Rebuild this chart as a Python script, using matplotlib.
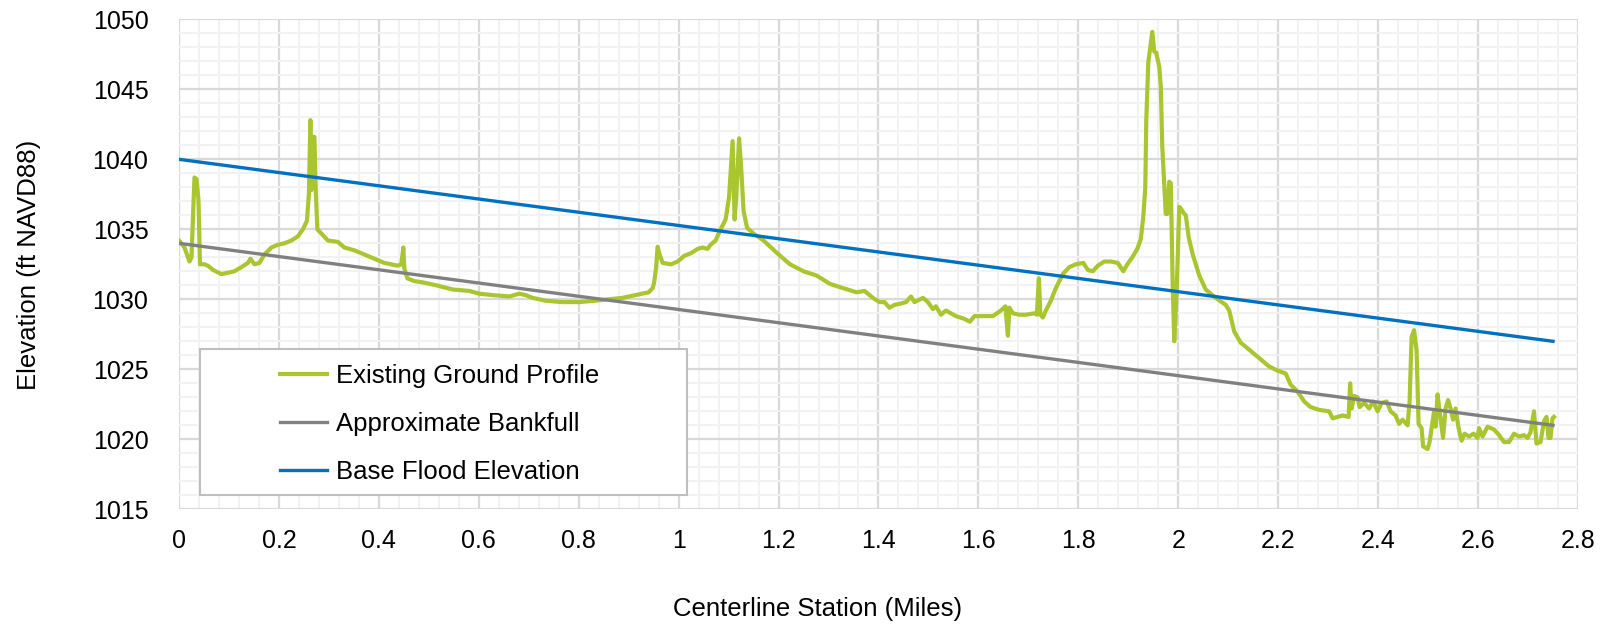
"""Elevation profile along the centerline"""

import matplotlib
matplotlib.use('Agg')
import matplotlib.pyplot as plt
from matplotlib.ticker import MultipleLocator
from matplotlib.patches import Rectangle

plt.rcParams['font.family'] = ['Liberation Sans', 'DejaVu Sans']

# existing ground profile (miles, ft)
station = [0, 0.011, 0.021, 0.025, 0.031, 0.035, 0.039, 0.042, 0.051, 0.058,
           0.068, 0.085, 0.098, 0.111, 0.125, 0.138, 0.143, 0.151, 0.161, 0.171,
           0.185, 0.198, 0.211, 0.225, 0.238, 0.248, 0.256, 0.260, 0.263, 0.265,
           0.267, 0.271, 0.274, 0.277, 0.285, 0.298, 0.318, 0.331, 0.351, 0.371,
           0.391, 0.411, 0.425, 0.438, 0.445, 0.449, 0.451, 0.457, 0.471, 0.489,
           0.515, 0.548, 0.581, 0.601, 0.628, 0.661, 0.681, 0.694, 0.708, 0.734,
           0.767, 0.800, 0.833, 0.860, 0.887, 0.913, 0.926, 0.940, 0.948, 0.951,
           0.955, 0.958, 0.962, 0.968, 0.985, 0.998, 1.011, 1.025, 1.038, 1.048,
           1.058, 1.064, 1.074, 1.084, 1.094, 1.101, 1.108, 1.112, 1.115, 1.121,
           1.125, 1.130, 1.137, 1.150, 1.170, 1.197, 1.223, 1.250, 1.276, 1.303,
           1.329, 1.356, 1.372, 1.389, 1.402, 1.412, 1.422, 1.432, 1.445, 1.455,
           1.465, 1.472, 1.489, 1.499, 1.509, 1.515, 1.525, 1.535, 1.555, 1.572,
           1.583, 1.592, 1.609, 1.629, 1.645, 1.654, 1.659, 1.662, 1.669, 1.682,
           1.695, 1.712, 1.717, 1.721, 1.724, 1.729, 1.735, 1.745, 1.755, 1.769,
           1.782, 1.795, 1.810, 1.819, 1.829, 1.839, 1.852, 1.865, 1.879, 1.890,
           1.898, 1.908, 1.918, 1.925, 1.930, 1.934, 1.936, 1.940, 1.945, 1.948,
           1.952, 1.956, 1.962, 1.965, 1.968, 1.975, 1.978, 1.982, 1.985, 1.989,
           1.992, 1.997, 2.002, 2.005, 2.010, 2.015, 2.021, 2.029, 2.042, 2.055,
           2.075, 2.095, 2.102, 2.112, 2.125, 2.142, 2.162, 2.182, 2.199, 2.215,
           2.225, 2.239, 2.252, 2.265, 2.282, 2.302, 2.309, 2.319, 2.329, 2.341,
           2.344, 2.347, 2.352, 2.359, 2.363, 2.372, 2.382, 2.390, 2.399, 2.407,
           2.417, 2.425, 2.435, 2.442, 2.449, 2.459, 2.463, 2.467, 2.472, 2.477,
           2.481, 2.487, 2.490, 2.499, 2.503, 2.509, 2.512, 2.515, 2.519, 2.523,
           2.530, 2.535, 2.540, 2.545, 2.550, 2.555, 2.561, 2.567, 2.573, 2.582,
           2.591, 2.599, 2.602, 2.609, 2.619, 2.632, 2.642, 2.652, 2.662, 2.672,
           2.682, 2.692, 2.699, 2.705, 2.712, 2.717, 2.725, 2.732, 2.737, 2.741,
           2.745, 2.749, 2.752]
ground = [1034.2, 1033.7, 1032.7, 1033.0, 1038.7, 1038.6, 1037.1, 1032.5, 1032.5, 1032.4,
          1032.1, 1031.8, 1031.9, 1032.0, 1032.3, 1032.6, 1032.9, 1032.5, 1032.6, 1033.2,
          1033.7, 1033.9, 1034.0, 1034.2, 1034.5, 1035.0, 1035.6, 1037.5, 1042.8, 1037.8,
          1041.6, 1041.6, 1037.5, 1035.0, 1034.7, 1034.2, 1034.1, 1033.7, 1033.5, 1033.2,
          1032.9, 1032.6, 1032.5, 1032.4, 1032.5, 1033.7, 1032.2, 1031.5, 1031.3, 1031.2,
          1031.0, 1030.7, 1030.6, 1030.4, 1030.3, 1030.2, 1030.4, 1030.3, 1030.1, 1029.9,
          1029.8, 1029.8, 1029.9, 1030.0, 1030.1, 1030.3, 1030.4, 1030.5, 1030.8, 1031.2,
          1032.3, 1033.75, 1033.2, 1032.6, 1032.5, 1032.7, 1033.1, 1033.3, 1033.6, 1033.7,
          1033.6, 1033.9, 1034.2, 1035.0, 1035.7, 1037.3, 1041.3, 1035.7, 1037.1, 1041.5,
          1039.5, 1036.3, 1035.1, 1034.7, 1034.2, 1033.3, 1032.5, 1032.0, 1031.7, 1031.1,
          1030.8, 1030.5, 1030.6, 1030.1, 1029.8, 1029.8, 1029.4, 1029.6, 1029.7, 1029.8,
          1030.2, 1029.8, 1030.1, 1029.8, 1029.3, 1029.5, 1028.9, 1029.2, 1028.8, 1028.6,
          1028.4, 1028.8, 1028.8, 1028.8, 1029.2, 1029.5, 1027.4, 1029.4, 1029.0, 1028.9,
          1028.9, 1029.0, 1028.9, 1031.5, 1028.9, 1028.7, 1029.2, 1029.9, 1030.8, 1031.8,
          1032.3, 1032.5, 1032.6, 1032.1, 1032.0, 1032.4, 1032.7, 1032.7, 1032.6, 1032.0,
          1032.5, 1033.0, 1033.6, 1034.3, 1035.9, 1038.0, 1042.8, 1046.9, 1048.3, 1049.1,
          1047.7, 1047.6, 1046.6, 1045.2, 1040.9, 1036.1, 1036.1, 1038.4, 1038.3, 1030.8,
          1027.0, 1030.8, 1036.6, 1036.5, 1036.2, 1036.0, 1034.4, 1033.2, 1031.7, 1030.7,
          1030.1, 1029.6, 1029.2, 1027.7, 1026.9, 1026.4, 1025.8, 1025.2, 1024.9, 1024.7,
          1023.9, 1023.4, 1022.7, 1022.3, 1022.1, 1022.0, 1021.5, 1021.6, 1021.7, 1021.6,
          1024.0, 1022.2, 1023.1, 1023.0, 1022.3, 1022.6, 1022.2, 1022.7, 1022.0, 1022.6,
          1022.7, 1022.0, 1021.7, 1021.1, 1021.4, 1021.0, 1022.7, 1027.3, 1027.8, 1026.3,
          1021.1, 1020.8, 1019.5, 1019.3, 1019.8, 1021.3, 1022.0, 1020.9, 1023.2, 1022.0,
          1020.1, 1022.2, 1022.8, 1022.2, 1021.4, 1022.2, 1020.8, 1019.9, 1020.4, 1020.2,
          1020.4, 1020.1, 1020.8, 1020.2, 1020.9, 1020.7, 1020.3, 1019.8, 1019.8, 1020.4,
          1020.2, 1020.3, 1020.1, 1020.5, 1022.0, 1019.7, 1019.8, 1021.3, 1021.6, 1020.1,
          1020.1, 1021.5, 1021.6]

# straight reference lines
line_station = [0, 2.75]
bankfull = [1034.0, 1021.0]
bfe = [1040.0, 1027.0]

x_ticks = [0, 0.2, 0.4, 0.6, 0.8, 1, 1.2, 1.4, 1.6, 1.8, 2, 2.2, 2.4, 2.6, 2.8]
x_labels = ['0', '0.2', '0.4', '0.6', '0.8', '1', '1.2', '1.4', '1.6', '1.8',
            '2', '2.2', '2.4', '2.6', '2.8']
y_ticks = [1015, 1020, 1025, 1030, 1035, 1040, 1045, 1050]

fig = plt.figure(figsize=(16.11, 6.29), dpi=100)
ax = fig.add_axes([0.1111, 0.1903, 0.8684, 0.779])

ax.plot(station, ground, color='#a9c52f', lw=3.0, zorder=3,
        label='Existing Ground Profile')
ax.plot(line_station, bankfull, color='#808080', lw=2.4, zorder=3,
        label='Approximate Bankfull')
ax.plot(line_station, bfe, color='#0070c0', lw=2.4, zorder=3,
        label='Base Flood Elevation')

ax.set_xlim(0, 2.8)
ax.set_ylim(1015, 1050)
ax.set_xticks(x_ticks)
ax.set_xticklabels(x_labels)
ax.set_yticks(y_ticks)
ax.xaxis.set_minor_locator(MultipleLocator(0.04))
ax.yaxis.set_minor_locator(MultipleLocator(1))

# excel style grid, no spines or tick marks
ax.grid(which='major', color='#d9d9d9', lw=1.6, zorder=1)
ax.grid(which='minor', color='#f2f2f2', lw=1.4, zorder=0)
ax.set_axisbelow(True)
for s in ax.spines.values():
    s.set_visible(False)
ax.tick_params(which='both', length=0, labelsize=18, colors='#000000')
ax.tick_params(axis='x', pad=14)
ax.tick_params(axis='y', pad=22)

fig.text(29 / 1611, 1 - 265 / 629, 'Elevation (ft NAVD88)', rotation=90,
         ha='center', va='center', fontsize=18.5)
fig.text(818 / 1611, 1 - 609 / 629, 'Centerline Station (Miles)',
         ha='center', va='center', fontsize=18.5)

# legend box drawn separately so the padding matches
ax.add_patch(Rectangle((0.0150, 0.029), 0.348, 0.298, transform=ax.transAxes,
                       facecolor='white', edgecolor='#bfbfbf', lw=1.5, zorder=4))
leg = ax.legend(loc='upper left', bbox_to_anchor=(0.0725, 0.2975), frameon=False,
                fontsize=18.5, handlelength=1.8, handletextpad=0.35,
                labelspacing=0.95, borderpad=0, borderaxespad=0)
leg.set_zorder(5)

plt.savefig('out.png', dpi=100)
